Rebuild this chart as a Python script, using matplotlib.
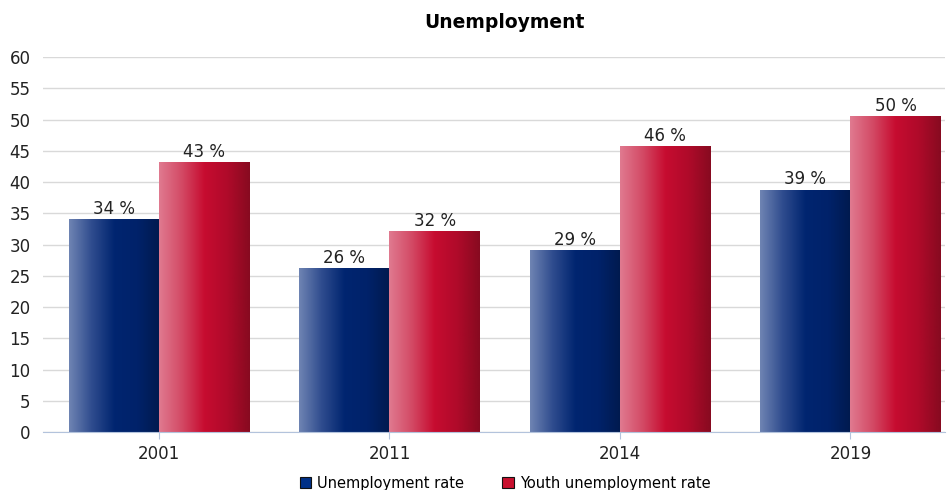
import matplotlib.pyplot as plt
import numpy as np
from matplotlib.colors import LinearSegmentedColormap
from matplotlib.patches import Patch

years = ["2001", "2011", "2014", "2019"]
unemployment = [34.1, 26.2, 29.1, 38.8]
youth_unemployment = [43.2, 32.1, 45.8, 50.5]
unemp_labels = ["34 %", "26 %", "29 %", "39 %"]
youth_labels = ["43 %", "32 %", "46 %", "50 %"]

plt.rcParams['font.family'] = ['DejaVu Sans']

blue_cmap = LinearSegmentedColormap.from_list(
    "blue_grad", ["#6f84b3", "#2f4c8e", "#002570", "#00226a", "#001a4e"])
red_cmap = LinearSegmentedColormap.from_list(
    "red_grad", ["#e07a90", "#d34a65", "#c70c30", "#b00a2a", "#870a20"])


def gradient_bars(ax, xs, heights, width, cmap):
    grad = np.linspace(0, 1, 256).reshape(1, -1)
    rects = ax.bar(xs, heights, width, align="edge", color="none",
                   edgecolor="none", zorder=3)
    for r in rects:
        x0, h = r.get_x(), r.get_height()
        im = ax.imshow(grad, cmap=cmap, aspect="auto",
                       extent=[x0, x0 + width, 0, h], zorder=3)
        im.set_clip_path(r)
    return rects


fig = plt.figure(figsize=(9.52, 4.9), dpi=100)
ax = fig.add_axes([43 / 952, 1 - 432 / 490, 902 / 952, 375 / 490])

x = np.arange(len(years))
w = 0.392
gradient_bars(ax, x - w, unemployment, w, blue_cmap)
gradient_bars(ax, x, youth_unemployment, w, red_cmap)

for i in range(len(years)):
    ax.text(x[i] - w / 2, unemployment[i] + 0.2, unemp_labels[i],
            ha="center", va="bottom", fontsize=12, color="#222222", zorder=4)
    ax.text(x[i] + w / 2, youth_unemployment[i] + 0.2, youth_labels[i],
            ha="center", va="bottom", fontsize=12, color="#222222", zorder=4)

ax.set_xlim(-0.503, 3.41)
ax.set_ylim(0, 60)
ax.set_yticks(np.arange(0, 61, 5))
ax.set_xticks(x)
ax.set_xticklabels(years)
ax.tick_params(axis="y", length=0, pad=9, labelsize=12, labelcolor="#222222")
ax.tick_params(axis="x", length=5, color="#b3c3dc", pad=4, labelsize=12,
               labelcolor="#222222")
ax.grid(axis="y", color="#d9d9d9", linewidth=1, zorder=0)
ax.set_axisbelow(True)
for s in ["top", "right", "left"]:
    ax.spines[s].set_visible(False)
ax.spines["bottom"].set_color("#b3c3dc")
ax.spines["bottom"].set_zorder(5)

fig.text(504 / 952, 1 - 22 / 490, "Unemployment", ha="center", va="center",
         fontsize=13.5, fontweight="bold")

handles = [Patch(facecolor="#003087", edgecolor="#111111", linewidth=0.8),
           Patch(facecolor="#c8102e", edgecolor="#111111", linewidth=0.8)]
fig.legend(handles, ["Unemployment rate", "Youth unemployment rate"],
           loc="center", bbox_to_anchor=(505 / 952, 1 - 483 / 490), ncol=2,
           frameon=False, fontsize=10.5, handlelength=0.8, handleheight=0.8,
           handletextpad=0.4, columnspacing=2.6)

fig.savefig("out.png", dpi=100)
